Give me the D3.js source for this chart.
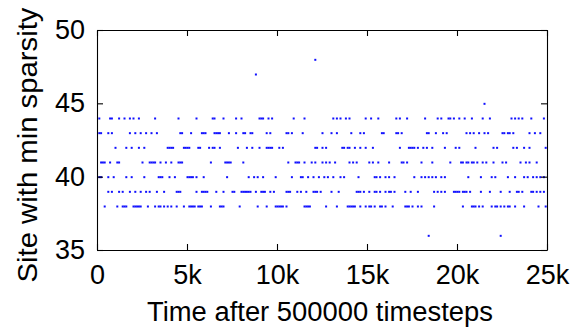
<!DOCTYPE html>
<html>
<head>
<meta charset="utf-8">
<script src="https://cdn.jsdelivr.net/npm/d3@7"></script>
<style>
  html, body { margin: 0; padding: 0; background: #fff; }
  svg { display: block; }
  text { font-family: "Liberation Sans", Arial, Helvetica, sans-serif; fill: #000; }
</style>
</head>
<body>
<svg id="chart" width="570" height="329"></svg>
<script>
// Sample times (thousands of timesteps after step 500000) at which each site had the minimum sparsity
const site36 = [18.4, 22.4];
const site38 = [0.4, 1.1, 1.4, 1.5, 1.6, 2.0, 2.1, 2.2, 2.3, 2.4, 2.8, 3.2, 3.4, 3.5, 3.7, 3.9, 4.1, 4.4, 4.8,
  5.1, 5.2, 5.3, 5.4, 5.6, 5.7, 5.8, 6.3, 6.8, 6.9, 7.0, 7.9, 8.9, 9.4, 9.9, 10.0, 10.1, 10.2, 10.3, 10.5,
  11.5, 11.6, 11.7, 11.8, 12.7, 13.3, 13.9, 14.0, 14.1, 14.2, 14.3, 14.6, 14.9, 15.1, 15.2, 15.4, 15.7, 15.8,
  16.0, 16.4, 17.1, 17.2, 17.3, 17.5, 17.8, 18.0, 18.7, 20.3, 20.8, 20.9, 21.0, 21.2, 21.4, 21.9, 22.1, 22.2,
  22.4, 22.6, 22.8, 22.9, 23.2, 23.7, 24.5, 24.9];
const site39 = [0.6, 0.8, 1.2, 1.4, 1.8, 2.1, 2.4, 2.7, 2.9, 3.3, 3.7, 4.4, 4.5, 4.6, 5.5, 5.8, 5.9, 6.0, 6.1,
  6.6, 7.0, 7.5, 7.6, 8.0, 8.1, 8.2, 8.3, 8.4, 8.5, 8.8, 9.1, 9.2, 9.3, 9.6, 9.8, 10.5, 10.6, 10.7, 11.1, 11.3,
  11.6, 12.0, 12.1, 12.2, 12.4, 13.0, 13.4, 14.4, 14.5, 14.6, 14.8, 15.1, 15.4, 15.5, 15.7, 16.0, 16.2, 16.3,
  16.5, 17.1, 17.4, 17.8, 18.7, 18.9, 19.1, 19.3, 19.8, 19.9, 20.0, 20.1, 20.3, 20.4, 20.5, 20.7, 21.3, 21.8,
  22.4, 22.9, 23.3, 23.4, 23.6, 24.1, 24.2, 24.4, 24.6, 24.8];
const site40 = [0.1, 0.2, 0.6, 0.9, 1.6, 1.9, 2.6, 3.4, 3.5, 3.6, 4.0, 4.3, 5.0, 5.1, 5.2, 5.3, 5.5, 5.9, 7.2,
  8.4, 8.7, 8.9, 9.2, 9.9, 10.8, 11.3, 11.4, 11.7, 12.0, 12.3, 12.6, 12.8, 13.1, 13.5, 13.7, 14.5, 15.4, 15.5,
  15.7, 16.0, 16.2, 16.5, 17.6, 18.0, 18.2, 18.4, 18.6, 18.8, 19.1, 19.3, 20.6, 21.3, 21.9, 22.1, 22.8, 23.2,
  23.7, 23.9, 24.2, 24.4, 24.6, 24.8];
const site41 = [0.2, 0.3, 0.4, 0.7, 1.1, 1.2, 2.5, 2.9, 3.0, 3.1, 3.2, 3.5, 3.8, 4.1, 4.5, 4.6, 4.7, 6.3, 7.1,
  7.2, 7.3, 7.4, 8.1, 10.6, 11.0, 11.1, 11.2, 11.5, 11.9, 12.1, 12.5, 12.7, 12.9, 13.2, 14.0, 14.2, 14.4,
  15.1, 15.3, 15.6, 16.2, 16.9, 17.0, 17.2, 18.0, 18.6, 19.6, 20.2, 20.3, 20.5, 20.6, 20.8, 20.9, 21.1, 21.4,
  21.6, 22.0, 22.5, 22.7, 23.5, 23.8, 24.0, 24.4];
const site42 = [1.0, 1.6, 1.9, 2.3, 2.6, 3.9, 4.0, 4.1, 4.2, 4.8, 4.9, 5.0, 5.1, 5.6, 5.7, 6.2, 6.4, 6.5, 6.8,
  7.8, 8.3, 8.6, 9.0, 9.4, 9.5, 9.6, 9.7, 10.1, 10.3, 12.1, 12.2, 12.5, 12.7, 13.6, 13.7, 13.9, 14.0, 14.3,
  14.6, 14.9, 15.3, 16.8, 17.3, 17.4, 17.5, 17.6, 17.8, 18.1, 18.3, 18.6, 19.3, 19.9, 20.1, 21.0, 22.0, 22.2,
  23.1, 23.3, 23.7, 24.0, 24.9];
const site43 = [0.1, 0.2, 0.6, 0.8, 1.8, 2.1, 2.4, 2.7, 3.0, 3.3, 4.6, 4.7, 5.2, 5.8, 5.9, 6.0, 6.5, 6.6, 6.7,
  6.8, 7.3, 7.7, 8.1, 8.2, 8.5, 8.6, 9.4, 9.6, 10.5, 10.6, 10.8, 11.4, 12.5, 13.0, 13.3, 14.1, 14.6, 14.8,
  15.8, 15.9, 16.6, 16.7, 16.9, 18.3, 18.4, 18.8, 19.2, 19.4, 20.5, 20.7, 20.9, 21.2, 21.5, 21.7, 22.5, 22.6,
  22.8, 22.9, 23.1, 24.0, 24.3, 24.6];
const site44 = [0.1, 0.7, 0.8, 1.2, 1.5, 1.8, 2.0, 2.3, 3.2, 4.5, 5.5, 6.4, 6.5, 7.0, 7.7, 8.0, 9.0, 9.1, 9.2,
  9.5, 9.7, 10.9, 11.5, 13.1, 13.3, 13.5, 13.8, 14.0, 14.9, 15.2, 15.6, 16.6, 16.8, 17.2, 18.2, 18.9, 19.1,
  19.5, 19.6, 19.8, 20.1, 20.4, 20.8, 21.4, 21.8, 23.0, 23.2, 23.4, 23.6, 24.1, 24.8];
const site45 = [21.5];
const site47 = [8.8];
const site48 = [12.1];

const siteSeries = [
  [36, site36], [38, site38], [39, site39], [40, site40], [41, site41], [42, site42],
  [43, site43], [44, site44], [45, site45], [47, site47], [48, site48]
];

// Axis ticks
const xTickValues = [0, 5, 10, 15, 20, 25];
const xTickLabels = ["0", "5k", "10k", "15k", "20k", "25k"];
const yTickValues = [35, 40, 45, 50];

const plotLeft = 97, plotRight = 547, plotTop = 30, plotBottom = 250;

const svg = d3.select("#chart");
svg.append("rect").attr("width", 570).attr("height", 329).attr("fill", "#fff");

const x = d3.scaleLinear().domain([0, 25]).range([plotLeft, plotRight]);
const y = d3.scaleLinear().domain([35, 50]).range([plotBottom, plotTop]);

const points = siteSeries.flatMap(([site, times]) => times.map(t => ({ t, site })));

svg.append("g")
  .selectAll("rect")
  .data(points)
  .join("rect")
  .attr("x", d => x(d.t) - 0.5)
  .attr("y", d => y(d.site) - 0.5)
  .attr("width", 2)
  .attr("height", 2)
  .attr("fill", "#1010ff");

function styleAxis(g) {
  g.selectAll(".domain, .tick line").attr("stroke", "#000").attr("stroke-width", 1.1);
  g.selectAll("text").attr("font-size", 27).attr("fill", "#000")
    .attr("font-family", "'Liberation Sans', Arial, sans-serif");
}

svg.append("g")
  .attr("transform", `translate(0,${plotBottom})`)
  .call(d3.axisBottom(x).tickValues(xTickValues)
    .tickFormat((d, i) => xTickLabels[i]).tickSizeInner(-6).tickSizeOuter(0).tickPadding(15))
  .call(styleAxis);

svg.append("g")
  .attr("transform", `translate(0,${plotTop})`)
  .call(d3.axisTop(x).tickValues(xTickValues).tickFormat("").tickSizeInner(-6).tickSizeOuter(0))
  .call(styleAxis);

svg.append("g")
  .attr("transform", `translate(${plotLeft},0)`)
  .call(d3.axisLeft(y).tickValues(yTickValues).tickFormat(d3.format("d"))
    .tickSizeInner(-6).tickSizeOuter(0).tickPadding(12))
  .call(styleAxis);

svg.append("g")
  .attr("transform", `translate(${plotRight},0)`)
  .call(d3.axisRight(y).tickValues(yTickValues).tickFormat("").tickSizeInner(-6).tickSizeOuter(0))
  .call(styleAxis);

svg.append("text")
  .attr("x", (plotLeft + plotRight) / 2 - 2)
  .attr("y", 321)
  .attr("text-anchor", "middle")
  .attr("font-size", 27)
  .attr("textLength", 346)
  .attr("lengthAdjust", "spacingAndGlyphs")
  .text("Time after 500000 timesteps");

svg.append("text")
  .attr("transform", "translate(37,145) rotate(-90)")
  .attr("text-anchor", "middle")
  .attr("font-size", 28)
  .attr("textLength", 275)
  .attr("lengthAdjust", "spacingAndGlyphs")
  .text("Site with min sparsity");
</script>
</body>
</html>
